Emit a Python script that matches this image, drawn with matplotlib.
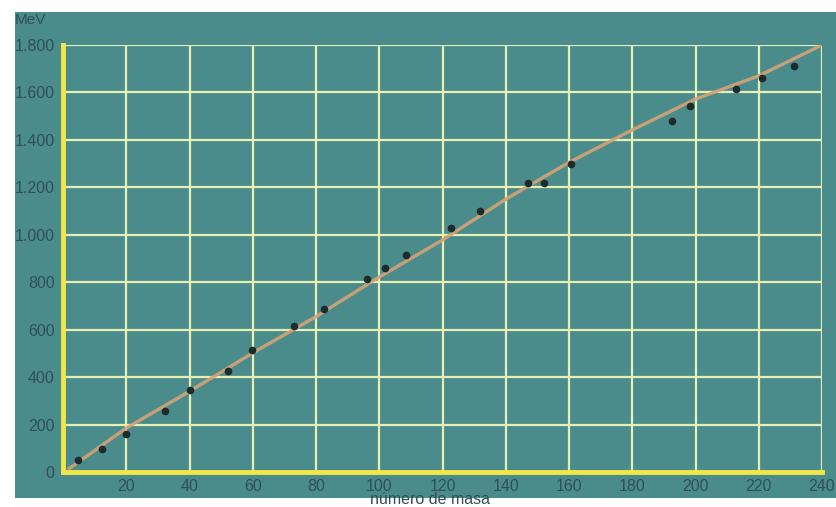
import matplotlib.pyplot as plt
import matplotlib.patches as mpatches

# energia de enlace vs numero de masa
masa = [4.7, 12.3, 20, 32.3, 40.2, 52.2, 59.8, 73, 82.5, 96.1, 101.8, 108.5,
        122.7, 131.9, 147, 152.1, 160.6, 192.6, 198.3, 212.8, 221, 231.1]
energia = [51, 97, 160, 257, 346, 426, 514, 615, 687, 814, 860, 915,
           1029, 1100, 1218, 1218, 1298, 1480, 1543, 1615, 1661, 1711]

curva_x = [2, 20, 40, 60, 80, 100, 120, 140, 160, 180, 200, 220, 240]
curva_y = [15, 185, 340, 502, 655, 822, 978, 1150, 1305, 1442, 1572, 1670, 1800]

xticks = [20, 40, 60, 80, 100, 120, 140, 160, 180, 200, 220, 240]
yticks = [0, 200, 400, 600, 800, 1000, 1200, 1400, 1600, 1800]
ylabels = ['0', '200', '400', '600', '800', '1.000', '1.200', '1.400', '1.600', '1.800']

teal = '#4a8c8b'
grid_c = '#e6f0b4'
axis_c = '#f2e64a'
text_c = '#2f5058'

plt.rcParams['font.family'] = ['Liberation Sans', 'DejaVu Sans']

fig = plt.figure(figsize=(8.36, 5.07), dpi=100)
fig.patch.set_facecolor('white')
fondo = mpatches.Rectangle((15 / 836, 9 / 507), 1 - 15 / 836, 1 - 9 / 507 - 12 / 507,
                           transform=fig.transFigure, facecolor=teal,
                           edgecolor='none', zorder=-5)
fig.patches.append(fondo)

ax = fig.add_axes([63 / 836, 1 - 472 / 507, (822 - 63) / 836, (472 - 45) / 507])
ax.set_zorder(2)
ax.set_facecolor(teal)
ax.set_xlim(0, 240)
ax.set_ylim(0, 1800)

for x in xticks:
    ax.axvline(x, color=grid_c, lw=1.6, zorder=1)
for y in yticks[1:]:
    ax.axhline(y, color=grid_c, lw=1.6, zorder=1)

for s in ['top', 'right']:
    ax.spines[s].set_visible(False)
for s in ['left', 'bottom']:
    ax.spines[s].set_color(axis_c)
    ax.spines[s].set_linewidth(3.5)
    ax.spines[s].set_zorder(3)

ax.plot(curva_x, curva_y, color='#d6a375', lw=2.4, alpha=0.9, zorder=2)
ax.plot(masa, energia, 'o', color='#1c2c2e', ms=4.5, zorder=4)

ax.set_xticks(xticks)
ax.set_yticks(yticks)
ax.set_yticklabels(ylabels)
ax.tick_params(length=0, colors=text_c, labelsize=11.5)
ax.tick_params(axis='x', pad=5)
ax.tick_params(axis='y', pad=6)

fig.text(15 / 836, 1 - 20 / 507, 'MeV', color=text_c, fontsize=11, va='center', ha='left')
fig.text(430 / 836, 1 - 500 / 507, 'número de masa', color=text_c, fontsize=11.5,
         va='center', ha='center')

fig.savefig('out.png', dpi=100, facecolor=fig.get_facecolor())
